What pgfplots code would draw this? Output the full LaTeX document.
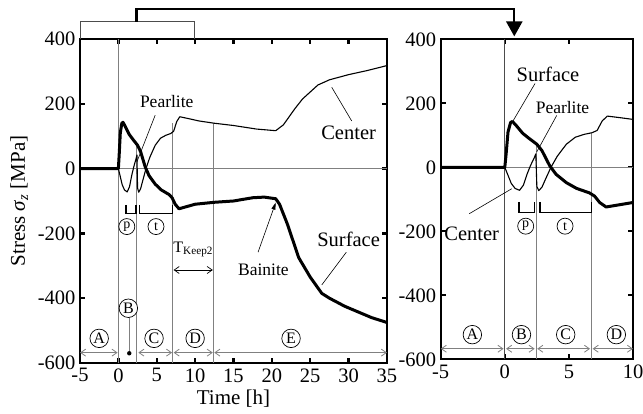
\documentclass[border=0pt]{standalone}
\usepackage{fontspec}
\setmainfont{Liberation Serif}
\usepackage{pgfplots}
\pgfplotsset{compat=1.18}
\usepackage{pgfplotstable}
\usetikzlibrary{arrows.meta}

% axial stress at the surface of the roll [h, MPa]
\pgfplotstableread{
t s
-5 0
0 0
0.1 40
0.25 110
0.45 140
0.6 143
0.9 130
1.4 106
1.9 90
2.5 72
2.9 52
3.5 5
4.0 -22
4.8 -48
5.6 -66
6.6 -80
7.0 -90
7.4 -110
7.9 -124
8.5 -120
10 -110
12.5 -104
15 -100
17.5 -90
19 -88
20.5 -93
21 -110
22 -170
23.5 -275
25 -335
26.5 -385
27.5 -400
29.5 -425
31 -440
33 -460
35 -475
}\surfacedata

% axial stress at the center of the roll [h, MPa]
\pgfplotstableread{
t s
-5 0
0 0
0.2 -20
0.5 -50
0.8 -66
1.15 -72
1.45 -56
1.75 -20
2.0 5
2.3 30
2.42 42
2.5 -60
2.65 -73
2.9 -62
3.2 -35
3.6 0
4.1 35
4.8 72
5.5 94
6.2 103
6.8 108
7.2 115
7.6 145
8.0 160
9 155
10.5 147
12.5 140
15 133
18 122
20.5 117
21.5 135
23 185
24 215
26 258
27.5 274
30 290
32.5 303
35 318
}\centerdata

\definecolor{guide}{gray}{0.5}

\pgfplotsset{
  stressframe/.style={
    scale only axis,
    anchor=south west,
    axis line style={line width=2.4pt},
    tick align=inside,
    major tick length=5pt,
    tick style={black, line width=2.4pt},
    ymin=-600, ymax=400,
    ytick={-600,-400,...,400},
    tick label style={font=\fontsize{20.5}{21}\selectfont},
    /pgf/number format/assume math mode=true,
    xticklabel style={yshift=-2pt},
    yticklabel style={xshift=-1pt},
  },
  surf/.style={black, line width=3pt, line join=round},
  cent/.style={black, line width=1.1pt, line join=round},
}

\tikzset{
  circ/.style={circle, draw, line width=0.7pt, inner sep=0pt, minimum size=18.5pt,
    font=\fontsize{16}{16}\selectfont},
  circs/.style={circle, draw, line width=0.7pt, inner sep=0pt, minimum size=16pt,
    font=\fontsize{14}{14}\selectfont},
  span/.style={guide, line width=0.8pt, {Straight Barb[length=5pt,width=7pt]}-{Straight Barb[length=5pt,width=7pt]}},
  lbl/.style={font=\fontsize{20.5}{21}\selectfont},
  lbls/.style={font=\fontsize{17.5}{18}\selectfont},
  ptr/.style={black, line width=0.6pt},
}

\begin{document}
\begin{tikzpicture}
\useasboundingbox (0,0) rectangle (643pt,414pt);

% ---------- full cycle ----------
\begin{axis}[stressframe,
  at={(80pt,51pt)}, width=307pt, height=324pt,
  xmin=-5, xmax=35, xtick={-5,0,...,35},
  xlabel={Time [h]},
  ylabel={Stress {\itshape σ}\textsubscript{\itshape z} [MPa]},
  label style={font=\fontsize{21}{22}\selectfont},
  xlabel style={at={(axis description cs:0.5,0)}, anchor=north, yshift=-23pt},
  ylabel style={yshift=3pt},
]
  \draw[guide, line width=0.6pt] (axis cs:-5,0) -- (axis cs:35,0);
  \draw[guide, line width=0.9pt] (axis cs:0,-600) -- (axis cs:0,400);
  \draw[guide, line width=0.9pt] (axis cs:2.4,-600) -- (axis cs:2.4,78);
  \draw[guide, line width=0.9pt] (axis cs:7.1,-600) -- (axis cs:7.1,140);
  \draw[guide, line width=0.9pt] (axis cs:12.4,-600) -- (axis cs:12.4,140);

  \addplot[cent] table[x=t, y=s] {\centerdata};
  \addplot[surf] table[x=t, y=s] {\surfacedata};

  % transformation windows
  \draw[line width=1.2pt] (axis cs:1.0,-112) -- (axis cs:1.0,-138) -- (axis cs:2.3,-138) -- (axis cs:2.3,-112);
  \draw[line width=1.2pt] (axis cs:2.8,-112) -- (axis cs:2.8,-138) -- (axis cs:7.1,-138) -- (axis cs:7.1,-112);
  \node[circs] at (axis cs:1.1,-179) {p};
  \node[circs] at (axis cs:4.9,-179) {t};

  % holding time
  \node[font=\fontsize{16}{16}\selectfont] at (axis cs:9.75,-250) {T\textsubscript{Keep2}};
  \draw[black, line width=0.7pt, {Straight Barb[length=5pt,width=7pt]}-{Straight Barb[length=5pt,width=7pt]}]
    (axis cs:7.2,-313) -- (axis cs:12.3,-313);

  % stages
  \draw[guide, line width=0.9pt] (axis cs:1.38,-450) -- (axis cs:1.38,-570);
  \fill (axis cs:1.42,-570) circle (2.2pt);
  \node[circ, fill=white] at (axis cs:1.3,-431) {B};
  \draw[span] (axis cs:-5,-568) -- (axis cs:-0.1,-568);
  \draw[span] (axis cs:2.6,-568) -- (axis cs:7.0,-568);
  \draw[span] (axis cs:7.2,-568) -- (axis cs:12.3,-568);
  \draw[span] (axis cs:12.5,-568) -- (axis cs:35,-568);
  \node[circ] at (axis cs:-2.5,-524) {A};
  \node[circ] at (axis cs:4.65,-524) {C};
  \node[circ] at (axis cs:10.0,-524) {D};
  \node[circ] at (axis cs:22.5,-524) {E};

  % labels
  \node[lbls] at (axis cs:6.3,206) {Pearlite};
  \draw[ptr] (axis cs:4.8,165) -- (axis cs:2.4,20);
  \node[lbl] at (axis cs:30.0,109) {Center};
  \draw[ptr] (axis cs:30.4,147) -- (axis cs:27.8,251);
  \node[lbl] at (axis cs:30.0,-218) {Surface};
  \draw[ptr] (axis cs:29.7,-258) -- (axis cs:26.5,-359);
  \node[lbls] at (axis cs:18.9,-313) {Bainite};
  \draw[ptr, -{Triangle[length=7pt,width=4pt]}] (axis cs:18.2,-258) -- (axis cs:20.5,-105);

  % magnified window and link
  \coordinate (zl) at (axis cs:-5,400);
  \coordinate (zlt) at (axis cs:-5,453);
  \coordinate (zrt) at (axis cs:9.9,453);
  \coordinate (zr) at (axis cs:9.9,400);
  \coordinate (lk0) at (axis cs:2.38,453);
  \coordinate (lk1) at (axis cs:2.38,492);
\end{axis}

% ---------- first ten hours ----------
\begin{axis}[stressframe,
  at={(440.7pt,54.7pt)}, width=192.3pt, height=320pt,
  xmin=-5, xmax=10, xtick={-5,0,5,10},
]
  \draw[guide, line width=0.6pt] (axis cs:-5,0) -- (axis cs:10,0);
  \draw[black!70, line width=0.9pt] (axis cs:0,-600) -- (axis cs:0,400);
  \draw[guide, line width=0.9pt] (axis cs:2.43,-600) -- (axis cs:2.43,70);
  \draw[guide, line width=0.9pt] (axis cs:6.75,-600) -- (axis cs:6.75,107);

  \addplot[cent] table[x=t, y=s] {\centerdata};
  \addplot[surf] table[x=t, y=s] {\surfacedata};

  \draw[line width=1.2pt] (axis cs:1.1,-108) -- (axis cs:1.1,-142) -- (axis cs:2.3,-142) -- (axis cs:2.3,-108);
  \draw[line width=1.2pt] (axis cs:2.75,-108) -- (axis cs:2.75,-142) -- (axis cs:6.75,-142) -- (axis cs:6.75,-108);
  \node[circs] at (axis cs:1.63,-184) {p};
  \node[circs] at (axis cs:4.7,-184) {t};

  \draw[span] (axis cs:-5,-567) -- (axis cs:-0.1,-567);
  \draw[span] (axis cs:0.1,-567) -- (axis cs:2.33,-567);
  \draw[span] (axis cs:2.53,-567) -- (axis cs:6.65,-567);
  \draw[span] (axis cs:6.85,-567) -- (axis cs:10,-567);
  \node[circ] at (axis cs:-2.53,-523) {A};
  \node[circ] at (axis cs:1.3,-523) {B};
  \node[circ] at (axis cs:4.75,-523) {C};
  \node[circ] at (axis cs:8.7,-523) {D};

  \node[lbl] at (axis cs:3.37,290) {Surface};
  \draw[ptr] (axis cs:2.36,262) -- (axis cs:0.6,142);
  \node[lbls] at (axis cs:4.5,186) {Pearlite};
  \draw[ptr] (axis cs:4.05,162) -- (axis cs:2.49,48);
  \node[lbl] at (axis cs:-2.58,-207) {Center};
  \draw[ptr] (axis cs:-2.77,-145) -- (axis cs:0.54,-67);

  \coordinate (lk2) at (axis cs:0.74,409);
\end{axis}

\draw[guide!60!black, line width=0.9pt] (zl) -- (zlt) -- (zrt) -- (zr);
\draw[line width=2.4pt, line join=miter, -{Triangle[width=16pt,length=15pt]}]
  (lk0) -- (lk1) -| (lk2);
\end{tikzpicture}
\end{document}
